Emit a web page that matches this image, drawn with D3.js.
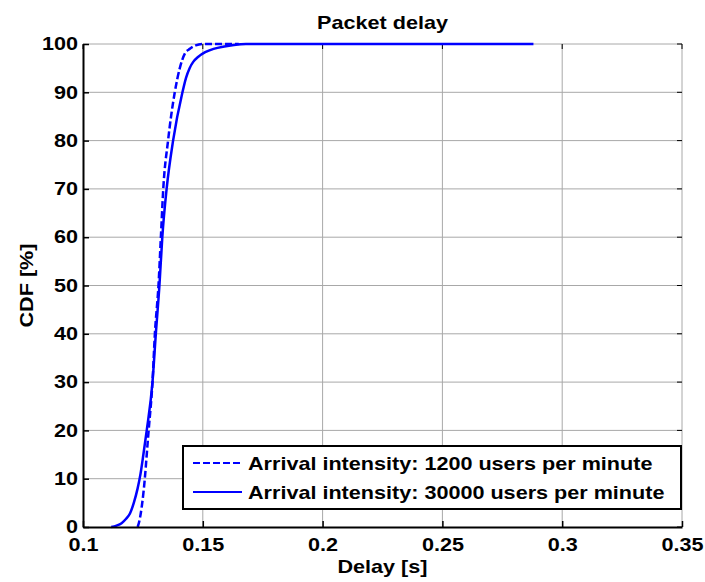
<!DOCTYPE html>
<html>
<head>
<meta charset="utf-8">
<script src="https://cdn.jsdelivr.net/npm/d3@7"></script>
<style>
  html, body { margin: 0; padding: 0; background: #fff; }
  svg text { font-family: "Liberation Sans", Arial, sans-serif; font-weight: bold; font-size: 18px; fill: #000; }
</style>
</head>
<body>
<svg id="chart" width="705" height="582"></svg>
<script>
// ---- data ----
const xTicks = [0.1, 0.15, 0.2, 0.25, 0.3, 0.35];
const xTickLabels = ["0.1", "0.15", "0.2", "0.25", "0.3", "0.35"];
const yTicks = [0, 10, 20, 30, 40, 50, 60, 70, 80, 90, 100];
const yTickLabels = ["0", "10", "20", "30", "40", "50", "60", "70", "80", "90", "100"];

const seriesNames = ["Arrival intensity: 1200 users per minute", "Arrival intensity: 30000 users per minute"];

// 1200 users per minute (dashed): delay [s]
const delay1200 = [0.1228, 0.1234, 0.1240, 0.1246, 0.1252, 0.1258, 0.1266, 0.1274, 0.1290, 0.1300, 0.1315, 0.1325, 0.1335, 0.1355, 0.1383, 0.1404, 0.1425, 0.1446, 0.1470, 0.1500, 0.1650];
const cdf1200 =   [0,      1,      2.5,    4.5,    7,      10,     15,     20,     30,     40,     50,     60,     70,     80,     90,     95,     98,     99,     99.7,   100,    100];

// 30000 users per minute (solid): delay [s]
const delay30000 = [0.1118, 0.1140, 0.1161, 0.1180, 0.1196, 0.1212, 0.1228, 0.1240, 0.1252, 0.1266, 0.1290, 0.1304, 0.1319, 0.1331, 0.1349, 0.1376, 0.1415, 0.1430, 0.1445, 0.1460, 0.1480, 0.1510, 0.1545, 0.1590, 0.1630, 0.1680, 0.2880];
const cdf30000 =   [0,      0.3,    0.8,    1.7,    2.8,    5,      8,      11,     15,     20,     30,     40,     50,     60,     70,     80,     90,     93,     95,     96.3,   97.3,   98.3,   99,     99.5,   99.8,   100,    100];

// ---- layout ----
const svg = d3.select("#chart");
const pL = 83, pR = 682, pT = 44, pB = 527;
const SX = 1.2; // horizontal text stretch

const x = d3.scaleLinear().domain([0.1, 0.35]).range([pL, pR]);
const y = d3.scaleLinear().domain([0, 100]).range([pB, pT]);

// grid
const grid = svg.append("g");
xTicks.slice(1).forEach(v => {
  grid.append("line").attr("x1", x(v)).attr("x2", x(v)).attr("y1", pT).attr("y2", pB)
    .attr("stroke", "#a8a8a8").attr("stroke-width", 1);
});
yTicks.slice(1).forEach(v => {
  grid.append("line").attr("x1", pL).attr("x2", pR).attr("y1", y(v)).attr("y2", y(v))
    .attr("stroke", "#a8a8a8").attr("stroke-width", 1);
});
// small black ticks at top and right
xTicks.forEach(v => {
  grid.append("line").attr("x1", x(v)).attr("x2", x(v)).attr("y1", pT).attr("y2", pT + 5)
    .attr("stroke", "#000").attr("stroke-width", 1);
});
yTicks.forEach(v => {
  grid.append("line").attr("x1", pR).attr("x2", pR - 5).attr("y1", y(v)).attr("y2", y(v))
    .attr("stroke", "#000").attr("stroke-width", 1);
});

// curves
const line = d3.line().x(d => x(d[0])).y(d => y(d[1])).curve(d3.curveMonotoneX);
svg.append("path").datum(delay1200.map((d, i) => [d, cdf1200[i]]))
  .attr("d", line).attr("fill", "none").attr("stroke", "#0000ff").attr("stroke-width", 2.5)
  .attr("stroke-dasharray", "7,3");
svg.append("path").datum(delay30000.map((d, i) => [d, cdf30000[i]]))
  .attr("d", line).attr("fill", "none").attr("stroke", "#0000ff").attr("stroke-width", 2.5);

// axes
const xAxis = d3.axisBottom(x).tickValues(xTicks).tickFormat((d, i) => xTickLabels[i])
  .tickSizeInner(-6).tickSizeOuter(0);
const gx = svg.append("g").attr("transform", `translate(0,${pB})`).call(xAxis);
gx.attr("font-size", null).attr("font-family", null);
gx.select(".domain").attr("stroke", "#000").attr("stroke-width", 2);
gx.selectAll(".tick line").attr("stroke", "#000").attr("stroke-width", 1.5);
gx.selectAll(".tick text").attr("y", 24).attr("dy", null)
  .attr("transform", `scale(${SX},1)`);

const yAxis = d3.axisLeft(y).tickValues(yTicks).tickFormat((d, i) => yTickLabels[i])
  .tickSizeInner(-6).tickSizeOuter(0);
const gy = svg.append("g").attr("transform", `translate(${pL},0)`).call(yAxis);
gy.attr("font-size", null).attr("font-family", null);
gy.select(".domain").attr("stroke", "#000").attr("stroke-width", 2);
gy.selectAll(".tick line").attr("stroke", "#000").attr("stroke-width", 1.5);
gy.selectAll(".tick text").attr("x", -5 / SX).attr("dy", "0.32em")
  .attr("transform", `scale(${SX},1)`);

// title & labels
svg.append("text").attr("transform", `translate(${(pL + pR) / 2},29) scale(${SX},1)`)
  .attr("text-anchor", "middle").text("Packet delay");
svg.append("text").attr("transform", `translate(${(pL + pR) / 2},573) scale(${SX},1)`)
  .attr("text-anchor", "middle").text("Delay [s]");
svg.append("text").attr("transform", `translate(33,${(pT + pB) / 2}) rotate(-90) scale(${SX},1)`)
  .attr("text-anchor", "middle").text("CDF [%]");

// legend
const lg = svg.append("g");
lg.append("rect").attr("x", 183).attr("y", 446).attr("width", 498).attr("height", 63)
  .attr("fill", "#fff").attr("stroke", "#000").attr("stroke-width", 2);
const rows = [463, 492];
seriesNames.forEach((name, i) => {
  lg.append("line").attr("x1", 193).attr("x2", 242).attr("y1", rows[i]).attr("y2", rows[i])
    .attr("stroke", "#0000ff").attr("stroke-width", 2)
    .attr("stroke-dasharray", i === 0 ? "7,3" : null);
  lg.append("text").attr("transform", `translate(248,${rows[i] + 7}) scale(${SX},1)`).text(name);
});
</script>
</body>
</html>
